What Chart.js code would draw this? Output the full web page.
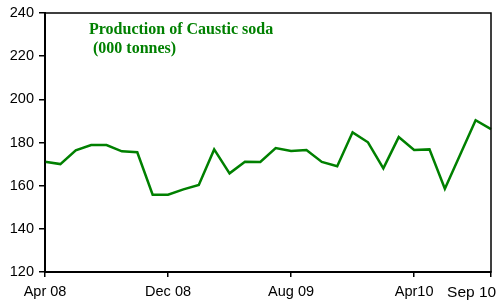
<!DOCTYPE html>
<html>
<head>
<meta charset="utf-8">
<script src="https://cdn.jsdelivr.net/npm/chart.js@4"></script>
<style>
    body { margin: 0; background: #fff; }
    canvas { display: block; }
</style>
</head>
<body>
<canvas id="graficoSoda" width="499" height="305"></canvas>
<script>
// Meses (abr 2008 - sep 2010)
const meses = [
    'Apr 08', 'May 08', 'Jun 08', 'Jul 08', 'Aug 08', 'Sep 08', 'Oct 08', 'Nov 08',
    'Dec 08', 'Jan 09', 'Feb 09', 'Mar 09', 'Apr 09', 'May 09', 'Jun 09', 'Jul 09',
    'Aug 09', 'Sep 09', 'Oct 09', 'Nov 09', 'Dec 09', 'Jan 10', 'Feb 10', 'Mar 10',
    'Apr10', 'May 10', 'Jun 10', 'Jul 10', 'Aug 10', 'Sep 10'
];

// Produccion de soda caustica (000 toneladas)
const produccion = [
    171.1, 170.0, 176.4, 178.8, 178.8, 175.9, 175.5, 155.8,
    155.8, 158.3, 160.3, 176.8, 165.7, 171.1, 171.0, 177.4,
    176.1, 176.5, 171.0, 169.0, 184.7, 180.1, 168.0, 182.5,
    176.5, 176.8, 158.6, 174.4, 190.3, 186.2
];

// Etiquetas visibles en el eje X
const etiquetasVisibles = [0, 8, 16, 24, 29];

// Eje Y
const ejeMin = 120;
const ejeMax = 240;
const ejePaso = 20;

const tituloLineas = ['Production of Caustic soda', '(000 tonnes)'];

const fuenteEjes = '"Liberation Sans", Arial, sans-serif';
const verde = '#008000';

// Plugin para el marco y el titulo dentro del grafico
const marcoYTitulo = {
    id: 'marcoYTitulo',
    afterDraw(chart) {
        const ctx = chart.ctx;
        const area = chart.chartArea;
        ctx.save();
        ctx.strokeStyle = '#000';
        ctx.lineWidth = 1.5;
        ctx.strokeRect(area.left, area.top, area.right - area.left, area.bottom - area.top);

        ctx.fillStyle = verde;
        ctx.font = 'bold 16px "Liberation Serif", "Times New Roman", serif';
        ctx.textAlign = 'left';
        ctx.textBaseline = 'alphabetic';
        ctx.fillText(tituloLineas[0], 89, 34);
        ctx.fillText(tituloLineas[1], 93, 53);
        ctx.restore();
    }
};

new Chart(document.getElementById('graficoSoda').getContext('2d'), {
    type: 'line',
    data: {
        labels: meses,
        datasets: [{
            label: 'Caustic soda',
            data: produccion,
            borderColor: verde,
            borderWidth: 2.5,
            pointRadius: 0,
            tension: 0,
            fill: false
        }]
    },
    options: {
        responsive: false,
        animation: false,
        devicePixelRatio: 1,
        layout: {
            autoPadding: false,
            padding: { top: 13, right: 8, left: 0, bottom: 0 }
        },
        plugins: {
            legend: { display: false },
            tooltip: { enabled: false }
        },
        scales: {
            x: {
                offset: false,
                afterBuildTicks: (scale) => {
                    scale.ticks = scale.ticks.filter(t => etiquetasVisibles.includes(t.value));
                },
                afterFit: (scale) => {
                    scale.height = 33;
                    scale.paddingLeft = 0;
                    scale.paddingRight = 0;
                },
                grid: {
                    drawOnChartArea: false,
                    drawTicks: true,
                    tickLength: 5,
                    color: '#000',
                    lineWidth: 1.5
                },
                border: { color: '#000', width: 2 },
                ticks: {
                    autoSkip: false,
                    maxRotation: 0,
                    padding: 6,
                    color: '#000',
                    font: (c) => ({
                        family: fuenteEjes,
                        size: c.tick && c.tick.value === 29 ? 15.5 : 14.5
                    }),
                    callback: function (value) {
                        const etiqueta = this.getLabelForValue(value);
                        // la ultima etiqueta queda dentro del lienzo
                        return value === 29 ? etiqueta + '         ' : etiqueta;
                    }
                }
            },
            y: {
                min: ejeMin,
                max: ejeMax,
                afterFit: (scale) => {
                    scale.width = 45;
                    scale.paddingTop = 0;
                    scale.paddingBottom = 0;
                },
                grid: {
                    drawOnChartArea: false,
                    drawTicks: true,
                    tickLength: 6,
                    color: '#000',
                    lineWidth: 1.5
                },
                border: { color: '#000', width: 2 },
                ticks: {
                    stepSize: ejePaso,
                    padding: 5,
                    color: '#000',
                    font: { family: fuenteEjes, size: 14.5 }
                }
            }
        }
    },
    plugins: [marcoYTitulo]
});
</script>
</body>
</html>
